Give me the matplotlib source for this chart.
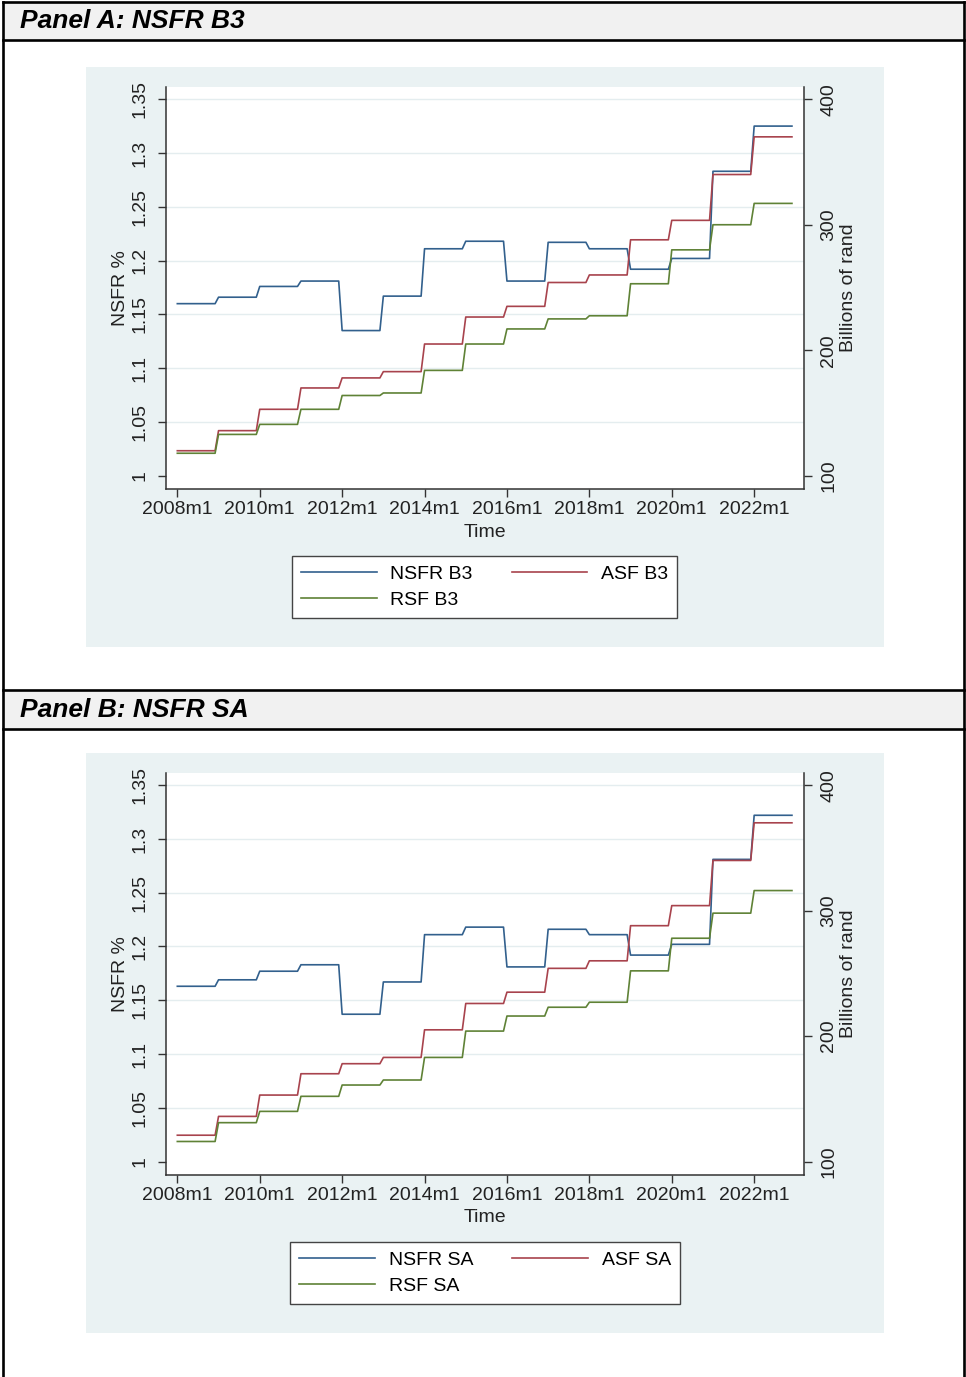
import numpy as np
import matplotlib
matplotlib.use("Agg")
import matplotlib.pyplot as plt
from matplotlib.patches import Rectangle
from matplotlib.lines import Line2D

plt.rcParams['font.family'] = ['Liberation Sans', 'DejaVu Sans']

W, H = 966, 1377

years = np.arange(2008, 2023)
xtick_labels = ['2008m1', '2010m1', '2012m1', '2014m1', '2016m1', '2018m1', '2020m1', '2022m1']

# Panel A: NSFR B3 (annual values, shown monthly)
nsfr_b3 = [1.160, 1.166, 1.176, 1.181, 1.135, 1.167, 1.211, 1.218, 1.181, 1.217, 1.211, 1.192, 1.202, 1.283, 1.325]
asf_b3 = [120, 136, 153, 170, 178, 183, 205, 226.5, 235, 254, 260, 288, 303.5, 340, 370]
rsf_b3 = [118, 133, 141, 153, 164, 166, 184, 205, 217, 225, 227.5, 253, 280, 300, 317]

# Panel B: NSFR SA
nsfr_sa = [1.163, 1.169, 1.177, 1.183, 1.137, 1.167, 1.211, 1.218, 1.181, 1.216, 1.211, 1.192, 1.202, 1.281, 1.322]
asf_sa = [121, 136, 153, 170, 178, 183, 205, 226, 235, 254, 260, 288, 304, 340, 370]
rsf_sa = [116, 131, 140, 152, 161, 165, 183, 204, 216, 223, 227, 252, 278, 298, 316]

navy = '#32608d'
maroon = '#a8434d'
green = '#5f8236'
bg = '#eaf2f3'
axcol = '#333333'
fs = 14


def px_rect(x0, y0, x1, y1):
    return [x0 / W, 1 - y1 / H, (x1 - x0) / W, (y1 - y0) / H]


def draw_panel(fig, rect, nsfr, asf, rsf, tag, leg_center):
    months = np.arange(len(years) * 12)
    ax = fig.add_axes(px_rect(*rect))
    ax2 = ax.twinx()
    ax.set_zorder(2)
    ax2.set_zorder(3)
    ax.set_facecolor('white')

    ylo, yhi = 0.9875, 1.3616
    ax.set_ylim(ylo, yhi)
    ax2.set_ylim(100 + (ylo - 1) * 300 / 0.35, 100 + (yhi - 1) * 300 / 0.35)
    ax.set_xlim(-3.3, 182.6)

    l1, = ax.plot(months, np.repeat(nsfr, 12), color=navy, lw=1.2, label='NSFR ' + tag)
    l2, = ax2.plot(months, np.repeat(asf, 12), color=maroon, lw=1.2, label='ASF ' + tag)
    l3, = ax2.plot(months, np.repeat(rsf, 12), color=green, lw=1.2, label='RSF ' + tag)

    ax.set_yticks([1, 1.05, 1.1, 1.15, 1.2, 1.25, 1.3, 1.35])
    ax.set_yticklabels(['1', '1.05', '1.1', '1.15', '1.2', '1.25', '1.3', '1.35'])
    ax2.set_yticks([100, 200, 300, 400])
    ax.set_xticks(np.arange(0, 180, 24))
    ax.set_xticklabels(xtick_labels)

    ax.grid(axis='y', color='#e4edef', lw=1.0)
    ax.set_axisbelow(True)
    ax.yaxis.get_gridlines()[0].set_visible(False)

    for a in (ax, ax2):
        a.spines['top'].set_visible(False)
        for s in ('left', 'right', 'bottom'):
            a.spines[s].set_color(axcol)
            a.spines[s].set_linewidth(1.1)
    ax.spines['right'].set_visible(False)
    ax2.spines['left'].set_visible(False)
    ax2.spines['bottom'].set_visible(False)

    ax.tick_params(axis='y', labelrotation=90, length=5.5, width=1, color=axcol,
                   labelsize=fs, pad=7, labelcolor='#222222')
    ax.tick_params(axis='x', length=5.5, width=1, color=axcol, labelsize=fs, pad=3,
                   labelcolor='#222222')
    ax2.tick_params(axis='y', labelrotation=90, length=5.5, width=1, color=axcol,
                    labelsize=fs, pad=6, labelcolor='#222222')
    for t in ax.get_yticklabels() + ax2.get_yticklabels():
        t.set_va('center')

    ax.set_ylabel('NSFR %', fontsize=fs, labelpad=2, color='#222222')
    ax2.set_ylabel('Billions of rand', fontsize=fs, labelpad=2, color='#222222')
    ax.set_xlabel('Time', fontsize=fs, labelpad=4, color='#222222')

    leg = fig.legend([l1, l3, l2], [l1.get_label(), l3.get_label(), l2.get_label()],
                     loc='center', bbox_to_anchor=(leg_center[0] / W, 1 - leg_center[1] / H),
                     ncol=2, fontsize=fs, frameon=True, fancybox=False,
                     handlelength=3.9, handletextpad=0.7, columnspacing=2.0,
                     borderpad=0.45, labelspacing=0.45)
    leg.get_frame().set_edgecolor('#444444')
    leg.get_frame().set_linewidth(1.0)
    leg.get_frame().set_facecolor('white')
    leg.get_frame().set_alpha(1)


fig = plt.figure(figsize=(W / 100, H / 100), dpi=100)

# headers and graph backgrounds
for y0, y1 in [(2, 40), (690, 729)]:
    fig.add_artist(Rectangle((3 / W, 1 - y1 / H), 961 / W, (y1 - y0) / H,
                             transform=fig.transFigure, facecolor='#f1f1f1', edgecolor='none', zorder=0))
for y0, y1 in [(67, 647), (753, 1333)]:
    fig.add_artist(Rectangle((86 / W, 1 - y1 / H), 798 / W, (y1 - y0) / H,
                             transform=fig.transFigure, facecolor=bg, edgecolor='none', zorder=0))

frame = dict(color='black', lw=1.9, transform=fig.transFigure, zorder=5)
fig.add_artist(Line2D([3 / W, 3 / W], [0, 1 - 2 / H], **frame))
fig.add_artist(Line2D([964 / W, 964 / W], [0, 1 - 2 / H], **frame))
for y in (2, 40, 690, 729):
    fig.add_artist(Line2D([3 / W, 964 / W], [1 - y / H, 1 - y / H], **frame))

fig.text(20 / W, 1 - 21 / H, 'Panel A: NSFR B3', fontsize=19, fontweight='bold',
         fontstyle='italic', va='center', ha='left')
fig.text(20 / W, 1 - 710 / H, 'Panel B: NSFR SA', fontsize=19, fontweight='bold',
         fontstyle='italic', va='center', ha='left')

draw_panel(fig, (166, 86.7, 804.3, 489.3), nsfr_b3, asf_b3, rsf_b3, 'B3', (484.5, 587))
draw_panel(fig, (166, 772.7, 804.3, 1175), nsfr_sa, asf_sa, rsf_sa, 'SA', (485, 1273))

fig.savefig('out.png', dpi=100)
